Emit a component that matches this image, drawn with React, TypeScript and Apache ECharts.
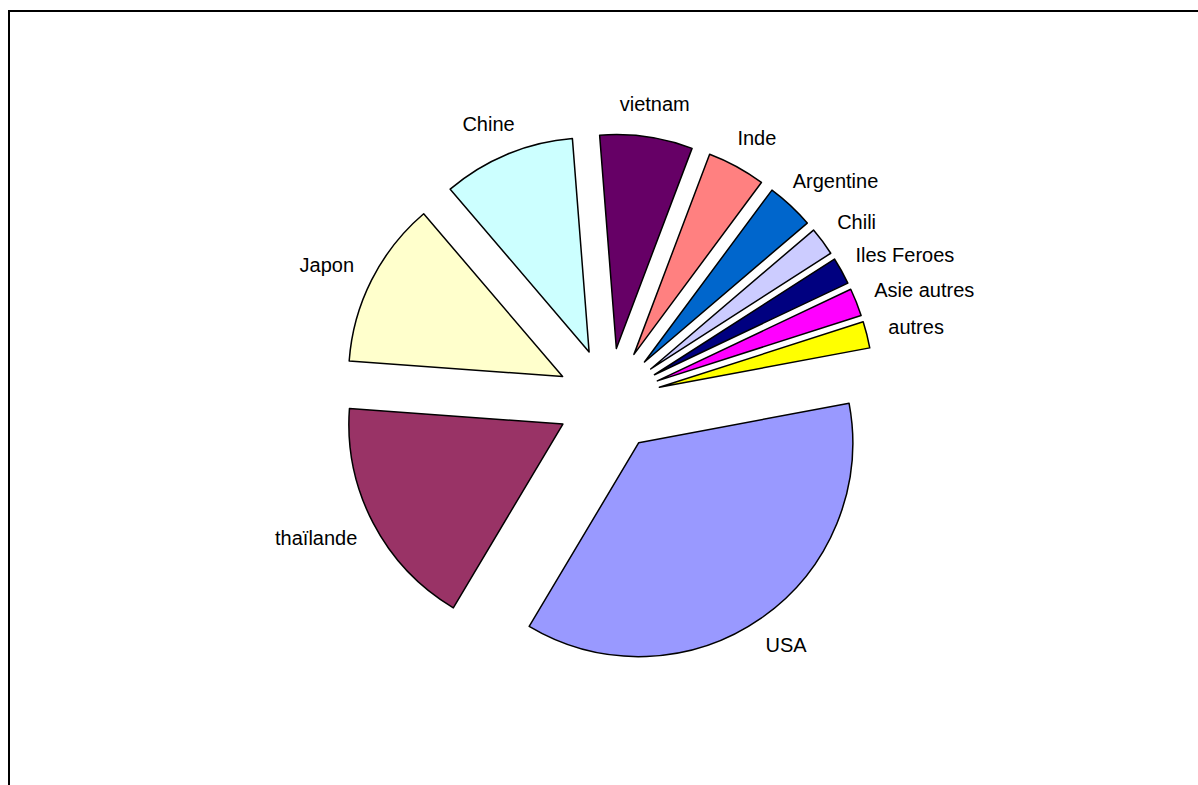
import React, { useEffect, useRef } from "react";
import * as echarts from "echarts";

const categories = [
  "USA",
  "thaïlande",
  "Japon",
  "Chine",
  "vietnam",
  "Inde",
  "Argentine",
  "Chili",
  "Iles Feroes",
  "Asie autres",
  "autres",
];
const shares = [36.5, 17.6, 12.6, 10.0, 7.0, 4.4, 3.6, 2.15, 2.05, 2.1, 2.0];
const sliceColors = [
  "#9999FF",
  "#993366",
  "#FFFFCC",
  "#CCFFFF",
  "#660066",
  "#FF8080",
  "#0066CC",
  "#CCCCFF",
  "#000080",
  "#FF00FF",
  "#FFFF00",
];

const CX = 609;
const CY = 400;
const RADIUS = 214;
const EXPLODE = 52;
const START_ANGLE = 10.6;
const LABEL_GAP = 23;
const FONT = "'Liberation Sans', Arial, Helvetica, sans-serif";

export default function App() {
  const ref = useRef<HTMLDivElement>(null);

  useEffect(() => {
    if (!ref.current) return;
    const chart = echarts.init(ref.current, undefined, { renderer: "svg" });

    const total = shares.reduce((a, b) => a + b, 0);
    // bisector of each slice, screen radians (clockwise from east)
    const mids: number[] = [];
    let acc = -START_ANGLE;
    shares.forEach((v) => {
      const span = (v / total) * 360;
      mids.push(((acc + span / 2) * Math.PI) / 180);
      acc += span;
    });

    // exploded pie: one pie layer per slice, shifted along its bisector
    const series = categories.map((_, i) => {
      const ux = Math.cos(mids[i]);
      const uy = Math.sin(mids[i]);
      return {
        type: "pie",
        name: categories[i],
        center: [CX + EXPLODE * ux, CY + EXPLODE * uy],
        radius: [0, RADIUS],
        startAngle: START_ANGLE,
        clockwise: true,
        silent: true,
        avoidLabelOverlap: false,
        emphasis: { disabled: true },
        label: {
          position: "outside",
          color: "#000",
          fontFamily: FONT,
          fontSize: 20,
          formatter: "{b}",
        },
        labelLine: { show: false },
        labelLayout: (p: any) => {
          if (p.dataIndex !== i) return {};
          const w = p.labelRect.width;
          const h = p.labelRect.height;
          const px = CX + (RADIUS + EXPLODE) * ux;
          const py = CY + (RADIUS + EXPLODE) * uy;
          return {
            x: px + ux * (w / 2 + LABEL_GAP),
            y: py + uy * (h / 2 + LABEL_GAP),
            align: "center",
            verticalAlign: "middle",
          };
        },
        data: categories.map((name, j) => ({
          name,
          value: shares[j],
          itemStyle:
            j === i
              ? { color: sliceColors[j], borderColor: "#000", borderWidth: 1.5 }
              : { color: "rgba(0,0,0,0)", borderWidth: 0 },
          label: { show: j === i },
        })),
      };
    });

    chart.setOption({
      animation: false,
      backgroundColor: "#ffffff",
      graphic: [
        {
          type: "rect",
          shape: { x: 9, y: 11, width: 1400, height: 1000 },
          style: { fill: "none", stroke: "#000", lineWidth: 2 },
          silent: true,
        },
      ],
      series,
    });

    return () => chart.dispose();
  }, []);

  return (
    <div
      ref={ref}
      style={{ position: "absolute", left: 0, top: 0, width: 1198, height: 785 }}
    />
  );
}
